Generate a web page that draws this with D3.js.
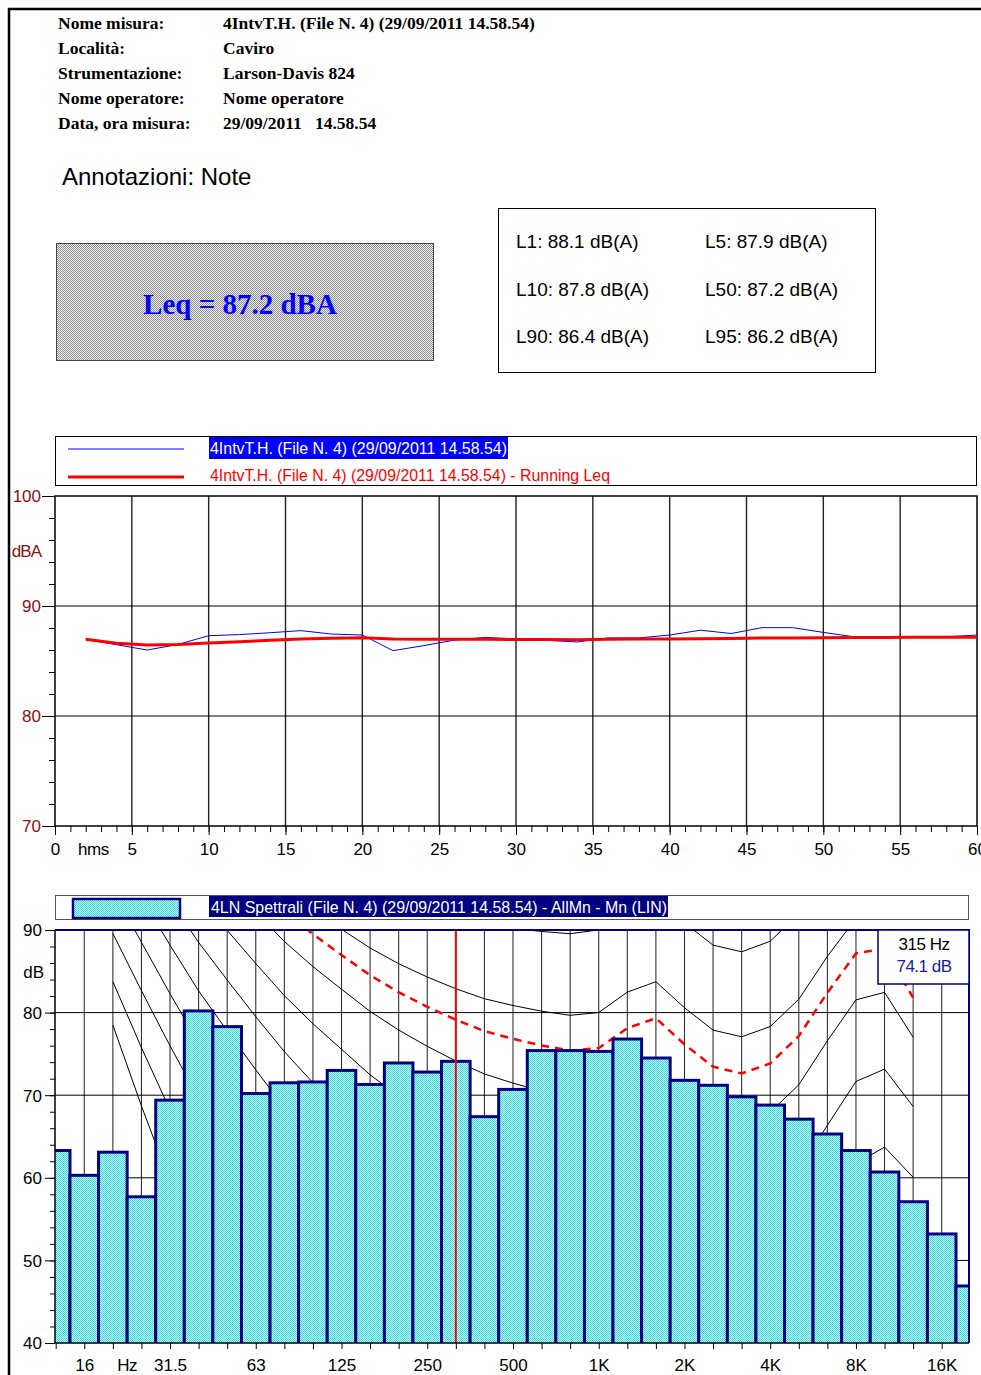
<!DOCTYPE html>
<html><head><meta charset="utf-8">
<script src="https://cdn.jsdelivr.net/npm/d3@7"></script>
<style>
body{margin:0;background:#fff}
svg{display:block}
text{font-family:"Liberation Sans",Arial,sans-serif}
.serif{font-family:"Liberation Serif","Times New Roman",serif}
</style>
</head><body><svg id="c" width="981" height="1375"></svg>
<script>
// ---------------- DATA ----------------
const headerLabels = ["Nome misura:", "Località:", "Strumentazione:", "Nome operatore:", "Data, ora misura:"];
const headerValues = ["4IntvT.H. (File N. 4) (29/09/2011 14.58.54)", "Caviro", "Larson-Davis 824", "Nome operatore", "29/09/2011   14.58.54"];
const noteText = "Annotazioni: Note";
const leqText = "Leq = 87.2 dBA";
const statTexts = ["L1: 88.1 dB(A)", "L5: 87.9 dB(A)", "L10: 87.8 dB(A)", "L50: 87.2 dB(A)", "L90: 86.4 dB(A)", "L95: 86.2 dB(A)"];

const timeLegend = ["4IntvT.H. (File N. 4) (29/09/2011 14.58.54)", "4IntvT.H. (File N. 4) (29/09/2011 14.58.54) - Running Leq"];
const timeSeconds = [2,4,6,8,10,12,14,16,18,20,22,24,26,28,30,32,34,36,38,40,42,44,46,48,50,52,54,56,58,60];
const levelValues = [86.97,86.48,86.0,86.5,87.3,87.4,87.57,87.76,87.45,87.36,85.94,86.4,86.9,87.15,87.0,86.88,86.73,87.1,87.1,87.36,87.8,87.5,88.03,88.03,87.6,87.2,87.15,87.18,87.2,87.36];
const runningLeqValues = [86.97,86.62,86.45,86.5,86.64,86.76,86.88,87.0,87.06,87.12,87.0,86.97,86.97,86.97,86.96,86.95,86.93,86.97,86.99,87.0,87.03,87.05,87.08,87.1,87.12,87.13,87.14,87.15,87.16,87.17];
const timeTickLabels = ["0","5","10","15","20","25","30","35","40","45","50","55","60"];
const timeUnit = "hms";
const levelTicks = [70, 80, 90, 100];
const levelUnit = "dBA";

const spectrumLegend = "4LN Spettrali (File N. 4) (29/09/2011 14.58.54) - AllMn - Mn (LIN)";
const bandLabels = ["12.5","16","20","25","31.5","40","50","63","80","100","125","160","200","250","315","400","500","630","800","1K","1.25K","1.6K","2K","2.5K","3.15K","4K","5K","6.3K","8K","10K","12.5K","16K","20K"];
const spectrumValues = [63.3,60.3,63.1,57.7,69.4,80.2,78.3,70.2,71.5,71.6,73.0,71.3,73.9,72.8,74.1,67.4,70.7,75.4,75.4,75.3,76.8,74.5,71.8,71.2,69.8,68.8,67.1,65.3,63.3,60.7,57.1,53.2,46.9];
const labelledBands = ["16","31.5","63","125","250","500","1K","2K","4K","8K","16K"];
const spectrumTicks = [40,50,60,70,80,90];
const spectrumUnit = "dB";
const freqUnit = "Hz";
const cursorBand = "315";
const cursorTexts = ["315 Hz", "74.1 dB"];

// equal-loudness contours, bands 20 Hz .. 12.5 kHz
const contourStartBand = "20";
const contourThreshold = [78.5,68.7,59.5,51.1,44.0,37.5,31.5,26.5,22.1,17.9,14.4,11.4,8.6,6.2,4.4,3.0,2.2,2.4,3.5,1.7,-1.3,-4.2,-6.0,-5.4,-1.5,6.0,12.6,13.9,12.3];
const contour10 = [83.75,75.76,68.21,61.14,54.96,49.01,43.24,38.13,33.48,28.77,24.84,21.33,18.05,15.14,12.98,11.18,9.99,10.0,11.26,10.43,7.27,4.45,3.04,3.8,7.46,14.35,20.98,23.43,22.33];
const contour20 = [89.58,82.65,75.98,69.62,64.02,58.55,53.19,48.38,43.94,39.37,35.51,31.99,28.69,25.67,23.43,21.48,20.1,20.01,21.46,21.4,18.15,15.38,14.26,15.14,18.63,25.02,31.52,34.43,33.04];
const contour30 = [94.85,88.52,82.28,76.33,71.1,66.0,61.0,56.38,52.27,48.04,44.46,41.2,38.14,35.33,33.24,31.41,30.08,30.01,31.64,31.96,28.69,25.95,24.94,25.9,29.32,35.43,41.66,44.36,42.27];
const contour40 = [99.85,93.94,88.17,82.63,77.78,73.08,68.48,64.37,60.59,56.7,53.41,50.4,47.58,44.98,43.05,41.34,40.06,40.01,41.82,42.51,39.23,36.51,35.61,36.65,40.01,45.83,51.8,54.28,51.49];
const contour50 = [104.68,99.09,93.63,88.5,83.95,79.51,75.27,71.51,68.08,64.59,61.64,58.97,56.49,54.22,52.55,51.08,49.98,50.01,51.99,52.85,49.6,46.89,46.02,47.11,50.45,56.1,61.73,63.72,60.06];
const contour60 = [109.51,104.23,99.08,94.18,89.96,85.94,82.05,78.65,75.56,72.47,69.86,67.53,65.39,63.45,62.05,60.81,59.89,60.01,62.15,63.19,59.96,57.26,56.42,57.57,60.89,66.36,71.66,73.16,68.63];
const contour70 = [114.25,109.23,104.37,99.76,95.84,92.15,88.61,85.57,82.83,80.15,77.89,75.92,74.14,72.57,71.46,70.49,69.78,70.01,72.32,73.47,70.28,67.57,66.75,67.94,71.26,76.59,81.54,82.45,77.02];
const contour80 = [118.99,114.23,109.65,105.34,101.72,98.36,95.17,92.48,90.09,87.82,85.92,84.31,82.89,81.68,80.86,80.17,79.67,80.01,82.48,83.74,80.59,77.88,77.07,78.31,81.62,86.81,91.41,91.74,85.41];
const contour90 = [123.69,119.17,114.86,110.83,107.51,104.47,101.63,99.29,97.25,95.4,93.86,92.62,91.57,90.74,90.22,89.82,89.55,90.01,92.64,93.99,90.88,88.17,87.36,88.64,91.95,97.01,101.25,100.97,93.72];
const contourMeasured = [116.95,112.08,107.38,102.94,99.19,95.69,92.35,89.51,86.97,84.52,82.47,80.7,79.13,77.76,76.82,76.01,75.42,75.71,78.11,79.32,76.15,73.45,72.63,73.85,77.16,82.41,87.16,87.75,81.8];

// ---------------- DRAW ----------------
const svg = d3.select("#c");
const defs = svg.append("defs");
const pc = defs.append("pattern").attr("id","cyan").attr("width",2).attr("height",2).attr("patternUnits","userSpaceOnUse");
pc.append("rect").attr("width",2).attr("height",2).attr("fill","#d8ffff");
pc.append("rect").attr("width",1).attr("height",1).attr("fill","#2ee0e6");
pc.append("rect").attr("x",1).attr("y",1).attr("width",1).attr("height",1).attr("fill","#2ee0e6");
const pg = defs.append("pattern").attr("id","gray").attr("width",2).attr("height",2).attr("patternUnits","userSpaceOnUse");
pg.append("rect").attr("width",2).attr("height",2).attr("fill","#f2f2f2");
pg.append("rect").attr("width",1).attr("height",1).attr("fill","#8c8c8c");
pg.append("rect").attr("x",1).attr("y",1).attr("width",1).attr("height",1).attr("fill","#8c8c8c");
defs.append("clipPath").attr("id","clipT").append("rect").attr("x",55).attr("y",496).attr("width",922).attr("height",330);
defs.append("clipPath").attr("id","clipS").append("rect").attr("x",55).attr("y",930).attr("width",914.5).attr("height",413);

// page frame
svg.append("path").attr("d","M9,1375V9H981").attr("fill","none").attr("stroke","#000").attr("stroke-width",2.5);

// header
const hdr = svg.append("g").attr("class","serif").style("font-weight","bold").style("font-size","17.5px");
headerLabels.forEach((t,i)=>{
  hdr.append("text").attr("class","serif").attr("x",58).attr("y",29+25*i).text(t);
  hdr.append("text").attr("class","serif").attr("x",223).attr("y",29+25*i).style("white-space","pre").text(headerValues[i]);
});
svg.append("text").attr("x",62).attr("y",185).style("font-size","24px").text(noteText);

// Leq box
svg.append("rect").attr("x",56.5).attr("y",243.5).attr("width",377).attr("height",117).attr("fill","url(#gray)").attr("stroke","#444").attr("stroke-width",1);
svg.append("text").attr("class","serif").attr("x",240).attr("y",314).attr("text-anchor","middle")
  .style("font-size","29px").style("font-weight","bold").attr("fill","#0000ff").text(leqText);

// stats box
svg.append("rect").attr("x",498.5).attr("y",208.5).attr("width",377).attr("height",164).attr("fill","#fff").attr("stroke","#000");
statTexts.forEach((t,i)=>{
  svg.append("text").attr("x", i%2===0 ? 516 : 705).attr("y", 248 + 47.5*Math.floor(i/2)).style("font-size","19px").text(t);
});

// ---------- time history chart ----------
const xT = d3.scaleLinear().domain([0,60]).range([55,977]);
const yT = d3.scaleLinear().domain([70,100]).range([826,496]);
// legend
svg.append("rect").attr("x",55.5).attr("y",436.5).attr("width",921).attr("height",49).attr("fill","#fff").attr("stroke","#000");
svg.append("line").attr("x1",68).attr("x2",184).attr("y1",449).attr("y2",449).attr("stroke","#0000ff").attr("stroke-width",1);
svg.append("line").attr("x1",68).attr("x2",184).attr("y1",477).attr("y2",477).attr("stroke","#ff0000").attr("stroke-width",3);
svg.append("rect").attr("x",209).attr("y",437).attr("width",299).attr("height",22).attr("fill","#0000ff");
svg.append("text").attr("x",210).attr("y",454).attr("textLength",297).attr("lengthAdjust","spacingAndGlyphs").style("font-size","17px").attr("fill","#fff").text(timeLegend[0]);
svg.append("text").attr("x",210).attr("y",481).attr("textLength",400).attr("lengthAdjust","spacingAndGlyphs").style("font-size","17px").attr("fill","#ff0000").text(timeLegend[1]);

const gT = svg.append("g");
// grid
gT.selectAll("line.vg").data(d3.range(5,60,5)).join("line").attr("x1",d=>xT(d)).attr("x2",d=>xT(d)).attr("y1",496).attr("y2",826).attr("stroke","#222").attr("stroke-width",1.4);
gT.selectAll("line.hg").data([80,90]).join("line").attr("class","hg").attr("x1",55).attr("x2",977).attr("y1",d=>yT(d)).attr("y2",d=>yT(d)).attr("stroke","#000").attr("stroke-width",1.2);
// axes
const yMinor = gT.append("g").attr("transform","translate(55,0)").call(d3.axisLeft(yT).tickValues(d3.range(70,101,2)).tickSize(6).tickFormat(""));
const yMajor = gT.append("g").attr("transform","translate(55,0)").call(d3.axisLeft(yT).tickValues(levelTicks).tickSize(13).tickPadding(1));
yMajor.selectAll("text").style("font-size","17px").attr("fill","#8b1212").attr("dy","0.35em");
const xMinor = gT.append("g").attr("transform","translate(0,826)").call(d3.axisBottom(xT).tickValues(d3.range(0,61,1)).tickSize(6).tickFormat(""));
const xMajor = gT.append("g").attr("transform","translate(0,826)").call(d3.axisBottom(xT).tickValues(d3.range(0,61,5)).tickSize(9).tickPadding(8).tickFormat((d,i)=>timeTickLabels[i]));
xMajor.selectAll("text").style("font-size","17px").attr("fill","#000");
[yMinor,yMajor,xMinor,xMajor].forEach(a=>{a.select(".domain").remove(); a.selectAll("line").attr("stroke","#000");});
gT.append("text").attr("x",xT(2.5)).attr("y",855).attr("text-anchor","middle").style("font-size","17px").style("letter-spacing","-0.5px").text(timeUnit);
gT.append("text").attr("x",41).attr("y",557).attr("text-anchor","end").style("font-size","17px").style("letter-spacing","-1px").attr("fill","#8b1212").text(levelUnit);
// frame
gT.append("path").attr("d",`M55,826V496H977V826`).attr("fill","none").attr("stroke","#000").attr("stroke-width",1.5);
gT.append("line").attr("x1",55).attr("x2",977).attr("y1",826).attr("y2",826).attr("stroke","#000").attr("stroke-width",1.5);
// lines
const lineT = d3.line().x((d,i)=>xT(timeSeconds[i])).y(d=>yT(d));
const gl = gT.append("g").attr("clip-path","url(#clipT)");
gl.append("path").attr("d",lineT(levelValues)).attr("fill","none").attr("stroke","#0000ff").attr("stroke-width",1);
gl.append("path").attr("d",lineT(runningLeqValues)).attr("fill","none").attr("stroke","#ff0000").attr("stroke-width",3).attr("stroke-linejoin","round");

// ---------- spectrum chart ----------
const xS = d3.scaleLinear().domain([0,31]).range([55.7,941.7]);
const yS = d3.scaleLinear().domain([40,90]).range([1343,930]);
const bandIdx = d3.range(bandLabels.length);
// legend
svg.append("rect").attr("x",55.5).attr("y",895.5).attr("width",913).attr("height",24).attr("fill","#fff").attr("stroke","#555");
svg.append("rect").attr("x",73).attr("y",899).attr("width",107).attr("height",19).attr("fill","url(#cyan)").attr("stroke","#000080").attr("stroke-width",2.5);
svg.append("rect").attr("x",209).attr("y",896).attr("width",459).attr("height",21).attr("fill","#000080");
svg.append("text").attr("x",211).attr("y",913).attr("textLength",456).attr("lengthAdjust","spacingAndGlyphs").style("font-size","17px").attr("fill","#fff").text(spectrumLegend);

const gS = svg.append("g");
// grid
gS.selectAll("line.vg").data(bandIdx.filter(k=>k>=1 && k<=31)).join("line").attr("x1",d=>xS(d)).attr("x2",d=>xS(d)).attr("y1",930).attr("y2",1343).attr("stroke","#333").attr("stroke-width",1.1);
gS.selectAll("line.hg").data([50,60,70,80]).join("line").attr("class","hg").attr("x1",55).attr("x2",969).attr("y1",d=>yS(d)).attr("y2",d=>yS(d)).attr("stroke","#000").attr("stroke-width",1);
// contours
const k0 = bandLabels.indexOf(contourStartBand);
const lineS = d3.line().x((d,i)=>xS(k0+i)).y(d=>yS(d));
const gc = gS.append("g").attr("clip-path","url(#clipS)");
[contourThreshold,contour10,contour20,contour30,contour40,contour50,contour60,contour70,contour80,contour90].forEach(c=>{
  gc.append("path").attr("d",lineS(c)).attr("fill","none").attr("stroke","#000").attr("stroke-width",1);
});
gc.append("path").attr("d",lineS(contourMeasured)).attr("fill","none").attr("stroke","#ff0000").attr("stroke-width",2.5).attr("stroke-dasharray","8,6");
// bars
gc.selectAll("rect.bar").data(spectrumValues).join("rect").attr("class","bar")
  .attr("x",(d,i)=>xS(i-0.5)).attr("width",xS(1)-xS(0)).attr("y",d=>yS(d)).attr("height",d=>yS(40)-yS(d)+3)
  .attr("fill","url(#cyan)").attr("stroke","#000080").attr("stroke-width",3);
// cursor
const kc = bandLabels.indexOf(cursorBand);
gS.append("line").attr("x1",xS(kc)).attr("x2",xS(kc)).attr("y1",930).attr("y2",1343).attr("stroke","#ff0000").attr("stroke-width",2);
// axes
const sYMinor = gS.append("g").attr("transform","translate(55,0)").call(d3.axisLeft(yS).tickValues(d3.range(40,91,2)).tickSize(5).tickFormat(""));
const sYMajor = gS.append("g").attr("transform","translate(55,0)").call(d3.axisLeft(yS).tickValues(spectrumTicks).tickSize(10).tickPadding(3));
sYMajor.selectAll("text").style("font-size","17px").attr("fill","#000").attr("dy","0.35em");
const sXTicks = gS.append("g").attr("transform","translate(0,1343)").call(d3.axisBottom(xS).tickValues(bandIdx.filter(k=>k<=31)).tickSize(6).tickFormat(""));
const sXLabels = gS.append("g").attr("transform","translate(0,1343)").call(d3.axisBottom(xS).tickValues(labelledBands.map(l=>bandLabels.indexOf(l))).tickSize(0).tickPadding(16).tickFormat(k=>bandLabels[k]));
sXLabels.selectAll("text").style("font-size","17px").attr("fill","#000");
[sYMinor,sYMajor,sXTicks,sXLabels].forEach(a=>{a.select(".domain").remove(); a.selectAll("line").attr("stroke","#000");});
gS.append("text").attr("x",(xS(2)+xS(3))/2).attr("y",1371).attr("text-anchor","middle").style("font-size","17px").style("letter-spacing","-0.5px").text(freqUnit);
gS.append("text").attr("x",44).attr("y",978).attr("text-anchor","end").style("font-size","17px").text(spectrumUnit);
// frame
gS.append("line").attr("x1",55).attr("x2",55).attr("y1",930).attr("y2",1343).attr("stroke","#000").attr("stroke-width",1.5);
gS.append("line").attr("x1",55).attr("x2",969).attr("y1",1343).attr("y2",1343).attr("stroke","#000").attr("stroke-width",1.5);
gS.append("path").attr("d","M55,930H969V1343").attr("fill","none").attr("stroke","#000080").attr("stroke-width",2);
// cursor box
gS.append("rect").attr("x",878).attr("y",930).attr("width",91).attr("height",54).attr("fill","#fff").attr("stroke","#000080").attr("stroke-width",1.5);
gS.append("text").attr("x",924).attr("y",950).attr("text-anchor","middle").style("font-size","17px").style("letter-spacing","-0.5px").attr("fill","#000").text(cursorTexts[0]);
gS.append("text").attr("x",924).attr("y",972).attr("text-anchor","middle").style("font-size","17px").style("letter-spacing","-0.5px").attr("fill","#1a1a9a").text(cursorTexts[1]);
</script>
</body></html>
